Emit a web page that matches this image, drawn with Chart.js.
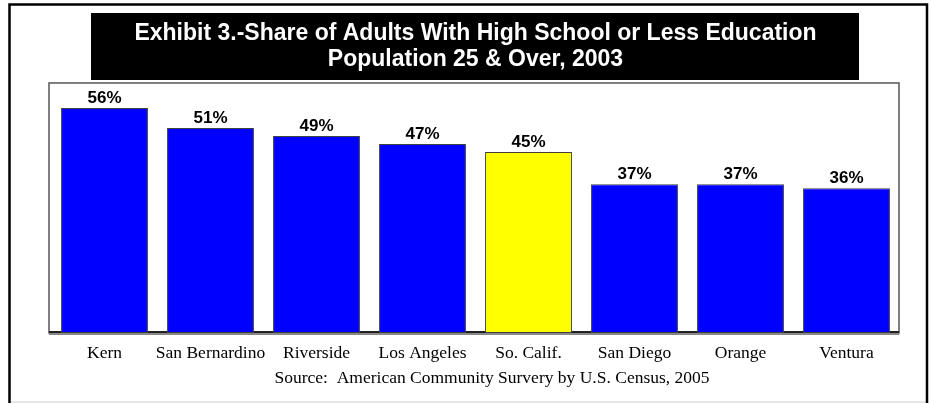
<!DOCTYPE html>
<html>
<head>
<meta charset="utf-8">
<script src="https://cdn.jsdelivr.net/npm/chart.js@4"></script>
<style>
  html, body { margin: 0; padding: 0; background: #fff; }
  #wrap { width: 931px; height: 403px; }
</style>
</head>
<body>
<div id="wrap"><canvas id="myChart" width="931" height="403"></canvas></div>
<script>
const counties = ["Kern", "San Bernardino", "Riverside", "Los Angeles", "So. Calif.", "San Diego", "Orange", "Ventura"];
const shares = [56, 51, 49, 47, 45, 37, 37, 36];
const barColors = ["#0000FF", "#0000FF", "#0000FF", "#0000FF", "#FFFF00", "#0000FF", "#0000FF", "#0000FF"];
const titleLines = ["Exhibit 3.-Share of Adults With High School or Less Education", "Population 25 & Over, 2003"];
const sourceText = "Source:  American Community Survery by U.S. Census, 2005";

// frame, black title box, floor line, value labels, source note
const decor = {
  id: "decor",
  beforeDraw(chart) {
    const c = chart.ctx;
    const a = chart.chartArea;
    c.save();
    c.fillStyle = "#fff";
    c.fillRect(0, 0, chart.width, chart.height);
    // outer frame
    c.fillStyle = "#e6e6e6";
    c.fillRect(10, 401, 916, 2);
    c.strokeStyle = "#000";
    c.lineWidth = 2.5;
    c.beginPath();
    c.moveTo(9.5, 420);
    c.lineTo(9.5, 4.5);
    c.lineTo(927, 4.5);
    c.lineTo(927, 420);
    c.stroke();
    // title box
    c.fillStyle = "#000";
    c.fillRect(91, 13, 768, 67);
    // plot frame
    c.strokeStyle = "#555";
    c.lineWidth = 1.5;
    c.strokeRect(49, a.top, 850, a.bottom - a.top);
    c.fillStyle = "#222";
    c.fillRect(49, a.bottom - 2, 850, 2);
    c.restore();
  },
  afterDatasetsDraw(chart) {
    const c = chart.ctx;
    const a = chart.chartArea;
    c.save();
    c.fillStyle = "#888";
    c.fillRect(49, a.bottom, 850, 2);
    c.fillStyle = "#000";
    c.font = "bold 17px 'Liberation Sans', Arial, sans-serif";
    c.textAlign = "center";
    c.textBaseline = "alphabetic";
    chart.getDatasetMeta(0).data.forEach((bar, i) => {
      c.fillText(shares[i] + "%", bar.x, bar.y - 5);
    });
    c.font = "17.5px 'Liberation Serif', 'Times New Roman', serif";
    c.fillText(sourceText, 492, 383);
    c.restore();
  }
};

const ctx = document.getElementById("myChart");

new Chart(ctx, {
  type: "bar",
  data: {
    labels: counties,
    datasets: [
      {
        data: shares,
        backgroundColor: barColors,
        borderColor: "#404040",
        borderWidth: 1,
        borderSkipped: false,
        barPercentage: 0.82,
        categoryPercentage: 1,
      },
    ],
  },
  options: {
    responsive: false,
    animation: false,
    layout: {
      padding: { left: 51.5, right: 31.5, top: 0, bottom: 0 },
    },
    plugins: {
      legend: { display: false },
      tooltip: { enabled: false },
      title: {
        display: true,
        text: titleLines,
        color: "#fff",
        font: { family: "'Liberation Sans', Arial, sans-serif", size: 23, weight: "bold", lineHeight: 1.13 },
        padding: { top: 21, bottom: 10 },
      },
    },
    scales: {
      x: {
        grid: { display: false, drawTicks: false },
        border: { display: false },
        ticks: {
          color: "#000",
          padding: 10,
          maxRotation: 0,
          autoSkip: false,
          font: { family: "'Liberation Serif', 'Times New Roman', serif", size: 17.5 },
        },
        afterFit(scale) {
          scale.height = 70;
        },
      },
      y: {
        display: false,
        min: 0,
        max: 62.2,
      },
    },
  },
  plugins: [decor],
});
</script>
</body>
</html>
